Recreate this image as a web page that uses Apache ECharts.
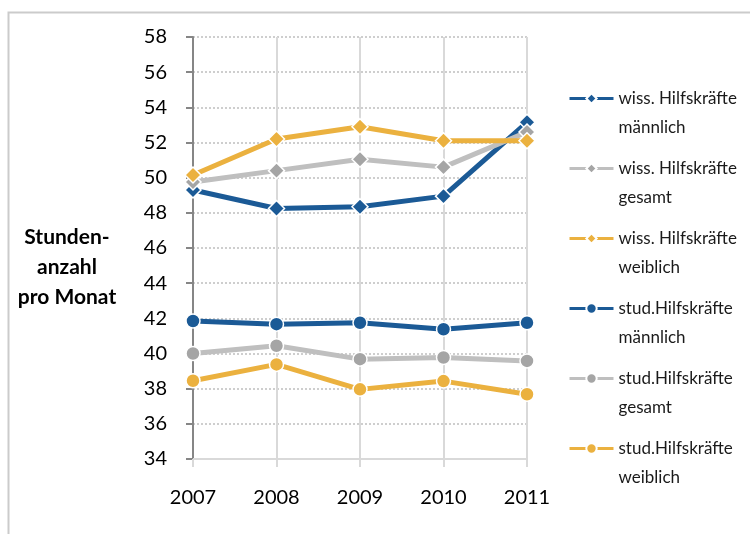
<!DOCTYPE html>
<html>
<head>
<meta charset="utf-8">
<script src="https://cdn.jsdelivr.net/npm/echarts@6/dist/echarts.min.js"></script>
<style>
html,body{margin:0;padding:0;background:#fff;}
#chart{width:750px;height:534px;}
</style>
</head>
<body>
<div id="chart"></div>
<script>
var years = ['2007', '2008', '2009', '2010', '2011'];
var seriesNames = [
  'wiss. Hilfskräfte\nmännlich',
  'wiss. Hilfskräfte\ngesamt',
  'wiss. Hilfskräfte\nweiblich',
  'stud.Hilfskräfte\nmännlich',
  'stud.Hilfskräfte\ngesamt',
  'stud.Hilfskräfte\nweiblich'
];
var wissMaennlich = [49.3, 48.25, 48.35, 48.95, 53.15];
var wissGesamt    = [49.75, 50.4, 51.05, 50.6, 52.6];
var wissWeiblich  = [50.15, 52.2, 52.9, 52.1, 52.1];
var studMaennlich = [41.85, 41.67, 41.75, 41.38, 41.75];
var studGesamt    = [40.0, 40.44, 39.68, 39.77, 39.58];
var studWeiblich  = [38.45, 39.38, 37.96, 38.43, 37.68];
var yAxisTitle = 'Stunden-\nanzahl\npro Monat';

var BLUE = '#1B5A96', GRAY_LINE = '#BFBFBF', GRAY_MARK = '#A5A5A5', ORANGE = '#EBB13F';
var FONT = 'Lato, "Open Sans", sans-serif';

function mk(name, data, lineColor, markColor, symbol, size) {
  return {
    name: name, type: 'line', data: data,
    symbol: symbol, symbolSize: size,
    lineStyle: { color: lineColor, width: 5 },
    itemStyle: { color: markColor, borderColor: '#fff', borderWidth: 1.5 },
    emphasis: { disabled: true },
    animation: false
  };
}

var chart = echarts.init(document.getElementById('chart'));
chart.setOption({
  backgroundColor: '#fff',
  animation: false,
  grid: { left: 193, right: 223, top: 37, bottom: 75, containLabel: false },
  xAxis: {
    type: 'category', data: years, boundaryGap: false,
    axisLine: { lineStyle: { color: '#D9D9D9', width: 2 } },
    axisTick: { show: true, length: 8, lineStyle: { color: '#D9D9D9', width: 2 } },
    splitLine: { show: true, lineStyle: { color: '#D9D9D9', width: 2, type: 'solid' } },
    axisLabel: { color: '#000', fontSize: 20, fontFamily: FONT, margin: 29 }
  },
  yAxis: {
    type: 'value', min: 34, max: 58, interval: 2,
    axisLine: { show: true, lineStyle: { color: '#868686', width: 2 } },
    axisTick: { show: true, length: 7, lineStyle: { color: '#868686', width: 2 } },
    splitLine: { show: true, lineStyle: { color: '#BFBFBF', width: 1.5, type: [2, 2] } },
    axisLabel: { color: '#000', fontSize: 20, fontFamily: FONT, margin: 26 }
  },
  legend: {
    orient: 'vertical', left: 568, top: 55, padding: 0,
    itemWidth: 44, itemHeight: 13, itemGap: -17,
    data: seriesNames,
    formatter: function (name) { return '\n' + name; },
    lineStyle: { width: 3 },
    textStyle: { fontSize: 17, fontFamily: FONT, color: '#1a1a1a', lineHeight: 29 },
    selectedMode: false
  },
  graphic: [
    { type: 'rect', left: 6, top: 10, shape: { width: 800, height: 600 },
      style: { fill: 'none', stroke: '#CBCBCB', lineWidth: 2 }, silent: true, z: -10 },
    { type: 'text', x: 67, y: 222, style: { text: yAxisTitle, fontSize: 21, fontWeight: 'bold',
      fontFamily: FONT, fill: '#000', align: 'center', verticalAlign: 'top', lineHeight: 30 } }
  ],
  series: [
    mk(seriesNames[0], wissMaennlich, BLUE, BLUE, 'diamond', 16),
    mk(seriesNames[1], wissGesamt, GRAY_LINE, GRAY_MARK, 'diamond', 16),
    mk(seriesNames[2], wissWeiblich, ORANGE, ORANGE, 'diamond', 16),
    mk(seriesNames[3], studMaennlich, BLUE, BLUE, 'circle', 14),
    mk(seriesNames[4], studGesamt, GRAY_LINE, GRAY_MARK, 'circle', 14),
    mk(seriesNames[5], studWeiblich, ORANGE, ORANGE, 'circle', 14)
  ]
});
</script>
</body>
</html>
